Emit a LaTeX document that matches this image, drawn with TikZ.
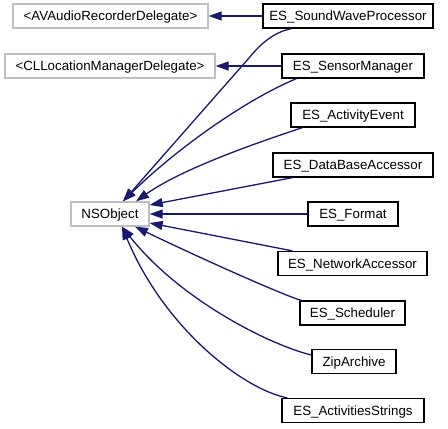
\documentclass[tikz,border=0pt]{standalone}
\usepackage{fontspec}
\setmainfont{Liberation Sans}
\usetikzlibrary{arrows.meta}
\definecolor{edgeblue}{HTML}{191970}
\definecolor{pgray}{HTML}{BFBFBF}
\begin{document}
\begin{tikzpicture}[x=1pt,y=-1pt,
  box/.style={draw=black, fill=white, line width=1.3pt, minimum height=24pt, inner sep=0pt,
    text height=9.6pt, text depth=0pt, font=\fontsize{13.33}{16}\selectfont, anchor=center},
  pbox/.style={box, draw=pgray},
  edge/.style={draw=edgeblue, line width=1.3pt, -{Triangle[length=13pt,width=9pt]}}]
\useasboundingbox (0,0) rectangle (448,429);
\node[pbox, minimum width=195pt] (avd) at (110.5,16) {<AVAudioRecorderDelegate>};
\node[box, minimum width=170pt] (swp) at (348,16) {ES\_SoundWaveProcessor};
\node[pbox, minimum width=210pt] (cll) at (110,66) {<CLLocationManagerDelegate>};
\node[box, minimum width=142pt] (sm) at (353,66) {ES\_SensorManager};
\node[box, minimum width=124pt] (ae) at (353,115) {ES\_ActivityEvent};
\node[box, minimum width=160pt] (dba) at (353,165) {ES\_DataBaseAccessor};
\node[pbox, minimum width=78pt] (ns) at (110,214) {NSObject};
\node[box, minimum width=90pt] (fmt) at (353,214) {ES\_Format};
\node[box, minimum width=149pt] (na) at (352.5,263.5) {ES\_NetworkAccessor};
\node[box, minimum width=105pt] (sch) at (352.5,313) {ES\_Scheduler};
\node[box, minimum width=84pt] (zip) at (354,361.5) {ZipArchive};
\node[box, minimum width=142pt] (acs) at (353,410.5) {ES\_ActivitiesStrings};
\draw[edge] (swp.west) -- (avd.east);
\draw[edge] (sm.west) -- (cll.east);
\draw[edge] ([xshift=29pt]swp.south west) .. controls (275,32) and (262,42) .. (249,58) -- ([xshift=13pt]ns.north);
\draw[edge] ([xshift=15pt]sm.south west) .. controls (245,100) and (175,150) .. ([xshift=13pt]ns.north);
\draw[edge] ([xshift=12pt]ae.south west) .. controls (250,145) and (180,170) .. ([xshift=26pt]ns.north);
\draw[edge] ([xshift=20pt]dba.south west) -- ([yshift=9pt]ns.east);
\draw[edge] (fmt.west) -- (ns.east);
\draw[edge] ([xshift=15pt]na.north west) -- ([yshift=-9pt]ns.east);
\draw[edge] ([xshift=2pt]sch.north west) .. controls (285,296) and (200,258) .. ([xshift=25pt]ns.south);
\draw[edge] ([yshift=6.5pt]zip.west) .. controls (270,345) and (180,300) .. ([xshift=12pt]ns.south);
\draw[edge] ([xshift=6pt]acs.north west) .. controls (245,390) and (165,330) .. ([xshift=12pt]ns.south);
\end{tikzpicture}
\end{document}
